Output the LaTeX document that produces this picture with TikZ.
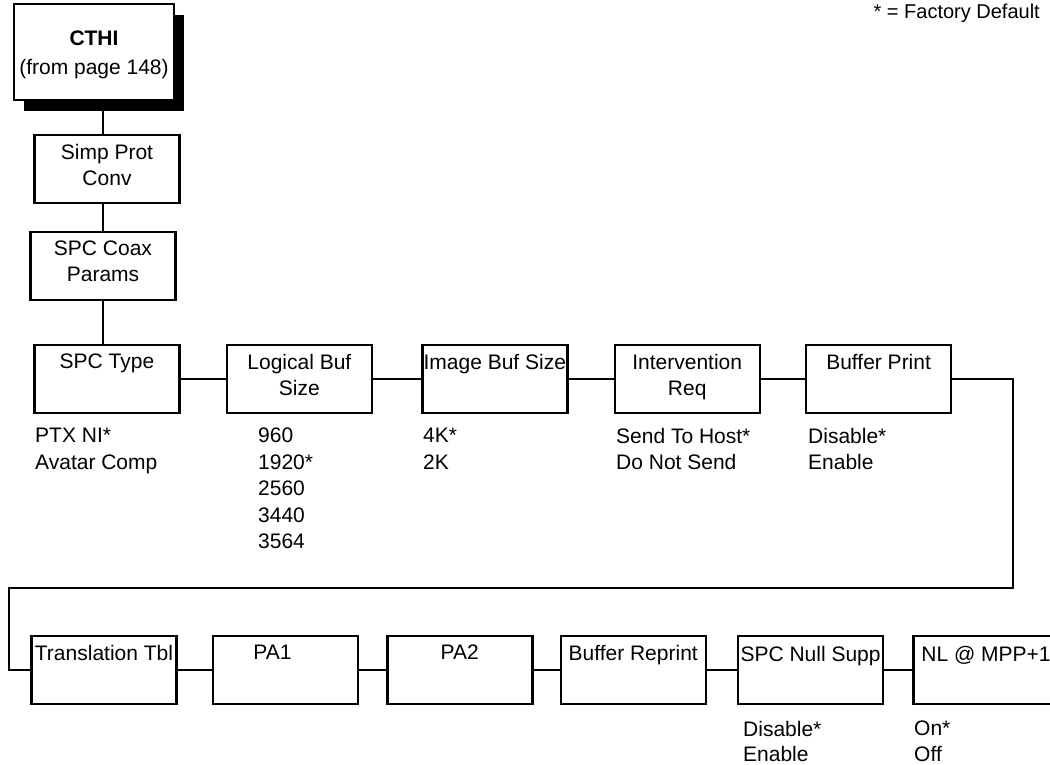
\documentclass[tikz,border=0pt]{standalone}
\usepackage{fontspec}
\setmainfont{Liberation Sans}
\usetikzlibrary{positioning,shadows}
\definecolor{ink}{HTML}{000000}
\tikzset{
  menubox/.style={
    draw=ink, fill=white, line width=2.4pt,
    minimum width=145pt, minimum height=68pt, inner sep=0pt
  },
  boxlabel/.style={
    anchor=north, inner sep=0pt, align=center,
    font=\fontsize{21}{26}\selectfont
  },
  choices/.style={
    anchor=north west, inner sep=0pt, align=left,
    font=\fontsize{21}{26.5}\selectfont
  },
  link/.style={draw=ink, line width=2.2pt}
}

\begin{document}
\begin{tikzpicture}[x=1pt,y=-1pt]
        \useasboundingbox (0,0) rectangle (1050,765);
        \node[anchor=north east, inner sep=0pt, font=\fontsize{20}{24}\selectfont] (legend) at (1040,4) {* = Factory Default};
        % entry column
        \node[menubox, minimum width=160pt, minimum height=96pt,
              general shadow={fill=ink, shadow xshift=10pt, shadow yshift=-11pt}] (cthi) at (94,52) {};
        \node[boxlabel, font=\fontsize{21}{29}\selectfont] (cthi-t) at ([yshift=-28pt]cthi.north) {\textbf{CTHI}\\(from page 148)};
        \node[menubox] (simp) at (107,169) {};
        \node[boxlabel] (simp-t) at ([yshift=-10pt]simp.north) {Simp Prot\\Conv};
        \node[menubox] (coax) at (103,266) {};
        \node[boxlabel] (coax-t) at ([yshift=-10pt]coax.north) {SPC Coax\\Params};
        % first row
        \node[menubox] (spctype) at (107,379) {};
        \node[menubox, right=45pt of spctype] (logbuf) {};
        \node[menubox, right=48pt of logbuf] (imgbuf) {};
        \node[menubox, right=45pt of imgbuf] (interv) {};
        \node[menubox, right=44pt of interv] (bufprint) {};
        \node[boxlabel] (spctype-t) at ([yshift=-10pt]spctype.north) {SPC Type};
        \node[boxlabel] (logbuf-t) at ([yshift=-10pt]logbuf.north) {Logical Buf\\Size};
        \node[boxlabel] (imgbuf-t) at ([yshift=-10pt]imgbuf.north) {Image Buf Size};
        \node[boxlabel] (interv-t) at ([yshift=-10pt]interv.north) {Intervention\\Req};
        \node[boxlabel] (bufprint-t) at ([yshift=-10pt]bufprint.north) {Buffer Print};
        \node[choices] (spctype-o) at (35,428) {PTX NI*\\Avatar Comp};
        \node[choices] (logbuf-o) at (258,428) {960\\1920*\\2560\\3440\\3564};
        \node[choices] (imgbuf-o) at (423,428) {4K*\\2K};
        \node[choices] (interv-o) at (616,428) {Send To Host*\\Do Not Send};
        \node[choices] (bufprint-o) at (808,428) {Disable*\\Enable};
        % second row
        \node[menubox] (transtbl) at (104,670) {};
        \node[menubox, right=34pt of transtbl] (pa1) {};
        \node[menubox, right=27pt of pa1] (pa2) {};
        \node[menubox, right=26pt of pa2] (bufrep) {};
        \node[menubox, right=30pt of bufrep] (nullsupp) {};
        \node[menubox, right=28pt of nullsupp] (nlmpp) {};
        \node[boxlabel] (transtbl-t) at ([yshift=-10pt]transtbl.north) {Translation Tbl};
        \node[boxlabel] (pa1-t) at ([xshift=-13pt,yshift=-10pt]pa1.north) {PA1};
        \node[boxlabel] (pa2-t) at ([yshift=-10pt]pa2.north) {PA2};
        \node[boxlabel] (bufrep-t) at ([yshift=-10pt]bufrep.north) {Buffer Reprint};
        \node[boxlabel] (nullsupp-t) at ([yshift=-11pt]nullsupp.north) {SPC Null Supp};
        \node[boxlabel] (nlmpp-t) at ([yshift=-11pt]nlmpp.north) {NL @ MPP+1};
        \node[choices, font=\fontsize{21}{25.5}\selectfont] (nullsupp-o) at (743,721) {Disable*\\Enable};
        \node[choices, font=\fontsize{21}{25.5}\selectfont] (nlmpp-o) at (914,721) {On*\\Off};
        % connectors
        \draw[link] (cthi.south -| coax) -- (simp.north -| coax);
        \draw[link] (simp.south -| coax) -- (coax.north);
        \draw[link] (coax.south) -- (spctype.north -| coax);
        \foreach \a/\b in {spctype/logbuf, logbuf/imgbuf, imgbuf/interv, interv/bufprint,
                           transtbl/pa1, pa1/pa2, pa2/bufrep, bufrep/nullsupp, nullsupp/nlmpp}
          \draw[link] (\a) -- (\b);
        \coordinate (wrapR) at (1013,588);
        \coordinate (wrapL) at (9,588);
        \draw[link] (bufprint.east) -| (wrapR) -- (wrapL) |- (transtbl.west);
      \end{tikzpicture}
\end{document}
